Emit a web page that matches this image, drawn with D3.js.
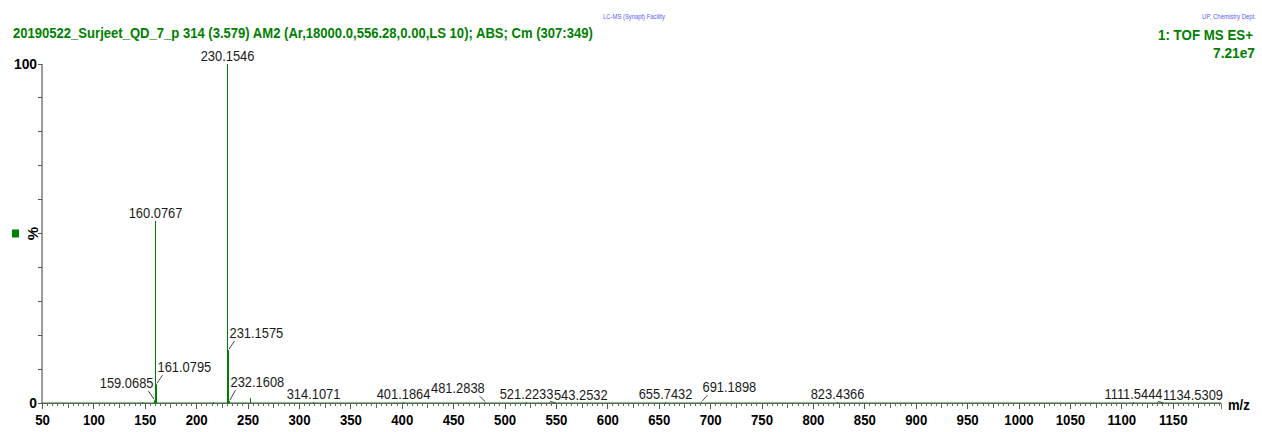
<!DOCTYPE html>
<html><head><meta charset="utf-8">
<script src="https://cdn.jsdelivr.net/npm/d3@7"></script>
<style>
body{margin:0;background:#fff}
svg{display:block;font-family:"Liberation Sans",Arial,sans-serif}
</style>
</head><body>
<svg id="c" width="1262" height="432"></svg>
<script>
// ---- data ----
const peakMz  = [147.1, 159.0685, 160.0767, 161.0795, 216.1, 230.1546, 231.1575, 232.1608, 252.1, 314.1071, 401.1864, 481.2838, 521.2233, 543.2532, 655.7432, 691.1898, 823.4366, 1111.5444, 1134.5309];
const peakPct = [0.3, 0.8, 53.7, 5.5, 0.3, 100, 15.6, 0.6, 1.5, 0.3, 0.3, 0.2, 0.3, 0.2, 0.3, 0.2, 0.3, 0.3, 0.2];
const labelMz    = [159.0685, 160.0767, 161.0795, 230.1546, 231.1575, 232.1608, 314.1071, 401.1864, 481.2838, 521.2233, 543.2532, 655.7432, 691.1898, 823.4366, 1111.5444, 1134.5309];
const labelSide  = ["left","center","right","center","right","right","center","center","left","center","right","center","right","center","center","right"];
const labelLevel = [4.4, null, 9.1, null, 19.2, 4.7, null, null, 2.9, null, 0.9, null, 3.2, null, null, 0.9];
const xTickLabels = [50,100,150,200,250,300,350,400,450,500,550,600,650,700,750,800,850,900,950,1000,1050,1100,1150];
const yTickLabels = [0, 100];
const titleText = "20190522_Surjeet_QD_7_p 314 (3.579) AM2 (Ar,18000.0,556.28,0.00,LS 10); ABS; Cm (307:349)";
const instrumentText = "1: TOF MS ES+";
const maxIntensityText = "7.21e7";
const facilityText = "LC-MS (Synapt) Facility";
const deptText = "UP, Chemistry Dept.";
const xAxisTitle = "m/z";
const yAxisTitle = "%";

// ---- drawing ----
const svg = d3.select("#c");
const GREEN = "#008000";
const x = d3.scaleLinear([50, 1197], [42, 1221]);
const y = d3.scaleLinear([0, 100], [403, 64]);

// text drawn at (x0,y0), horizontally compressed by k (or fitted to a width)
function mkText(parent, str, x0, y0, o) {
  const t = parent.append("text").attr("x", 0).attr("y", 0)
    .attr("text-anchor", o.anchor || "start")
    .attr("font-size", o.size).attr("font-weight", o.weight || "normal")
    .attr("fill", o.fill || "#000").text(str);
  const L = t.node().getComputedTextLength();
  const k = o.width ? o.width / L : (o.k || 1);
  t.attr("transform", `translate(${x0},${y0}) scale(${k},1)`);
  return {t, x: x0, y: y0, k, w: L * k, anchor: o.anchor || "start"};
}
function leftEdge(it) {
  return it.anchor === "middle" ? it.x - it.w / 2 : it.anchor === "end" ? it.x - it.w : it.x;
}

// header
mkText(svg, facilityText, 634, 19, {anchor: "middle", size: 8, fill: "#5a5aff", width: 62});
mkText(svg, deptText, 1256, 19, {anchor: "end", size: 8, fill: "#5a5aff", width: 54});
mkText(svg, titleText, 13, 38, {size: 14.5, weight: "bold", fill: GREEN, width: 580});
mkText(svg, instrumentText, 1253, 40, {anchor: "end", size: 15, weight: "bold", fill: GREEN, width: 95});
mkText(svg, maxIntensityText, 1255, 58, {anchor: "end", size: 15, weight: "bold", fill: GREEN, width: 42});

// y axis
svg.append("line").attr("x1", x(50)).attr("x2", x(50)).attr("y1", y(100)).attr("y2", y(0))
  .attr("stroke", "#7a7a7a").attr("stroke-width", 1.5);
svg.append("g").selectAll("line").data(d3.range(0, 101, 10)).join("line")
  .attr("x1", x(50) - 4).attr("x2", x(50)).attr("y1", d => y(d)).attr("y2", d => y(d))
  .attr("stroke", "#555").attr("stroke-width", 1).attr("shape-rendering", "crispEdges");
yTickLabels.forEach(v => mkText(svg, String(v), x(50) - 5, y(v) + 5.4,
  {anchor: "end", size: 15, weight: "bold", k: 0.92}));
svg.append("text").attr("transform", `translate(${x(50) - 4},${y(50)}) rotate(-90)`)
  .attr("text-anchor", "middle").attr("font-size", 15).attr("font-weight", "bold").text(yAxisTitle);
svg.append("rect").attr("x", 12).attr("y", y(50) - 4).attr("width", 7).attr("height", 8).attr("fill", GREEN);

// x axis
const xAxis = d3.axisBottom(x).tickValues(xTickLabels).tickSize(6).tickPadding(5.5).tickFormat(d3.format("d"));
const gx = svg.append("g").attr("transform", `translate(0,${y(0)})`).call(xAxis);
gx.select(".domain").attr("stroke", "#777");
gx.selectAll(".tick line").attr("stroke", "#555").attr("shape-rendering", "crispEdges");
gx.selectAll(".tick text").attr("font-size", 15).attr("font-weight", "bold").attr("fill", "#000")
  .attr("font-family", "'Liberation Sans',Arial,sans-serif")
  .attr("transform", "scale(0.88,1)");
const minor = d3.range(50, 1197, 5).filter(v => v % 50 !== 0);
svg.append("g").selectAll("line").data(minor).join("line")
  .attr("x1", d => Math.round(x(d)) + 0.5).attr("x2", d => Math.round(x(d)) + 0.5)
  .attr("y1", y(0)).attr("y2", d => y(0) + (d % 25 === 0 ? 5 : 3))
  .attr("stroke", "#666").attr("stroke-width", 1);
mkText(svg, xAxisTitle, 1228, 410, {size: 14.5, weight: "bold", k: 0.9});

// spectrum baseline
svg.append("line").attr("x1", x(50)).attr("x2", x(1197)).attr("y1", y(0)).attr("y2", y(0))
  .attr("stroke", "#2d6a2d").attr("stroke-width", 1.2);

// peaks
svg.append("g").selectAll("line").data(peakMz).join("line")
  .attr("x1", d => Math.round(x(d)) + 0.5).attr("x2", d => Math.round(x(d)) + 0.5)
  .attr("y1", y(0)).attr("y2", (d, i) => y(peakPct[i]))
  .attr("stroke", GREEN).attr("stroke-width", 1);

// peak labels
const fmt = d3.format(".4f");
const lab = svg.append("g");
const placed = [];
labelMz.forEach((mz, i) => {
  const pi = peakMz.indexOf(mz);
  const px = Math.round(x(mz)) + 0.5, py = y(peakPct[pi]);
  const side = labelSide[i];
  const opt = {size: 15, fill: "#1a1a1a", k: 0.86};
  let it;
  if (side === "center") {
    it = mkText(lab, fmt(mz), px, py - 3, {...opt, anchor: "middle"});
  } else {
    const ly = y(labelLevel[i]);
    const dir = side === "right" ? 1 : -1;
    lab.append("line").attr("x1", px + dir * 0.5).attr("y1", py - 1)
      .attr("x2", px + dir * 6).attr("y2", ly + 3)
      .attr("stroke", "#333").attr("stroke-width", 0.9);
    it = mkText(lab, fmt(mz), px + dir * 1, ly, {...opt, anchor: side === "right" ? "start" : "end"});
  }
  placed.push(it);
});
// neighbouring labels sharing a line: push the right-hand one clear of the left one
for (let j = 1; j < placed.length; j++) {
  const a = placed[j - 1], b = placed[j];
  if (Math.abs(a.y - b.y) > 12) continue;
  const overlap = leftEdge(a) + a.w + 0.5 - leftEdge(b);
  if (overlap > 0) {
    b.x += overlap;
    b.t.attr("transform", `translate(${b.x},${b.y}) scale(${b.k},1)`);
  }
}
</script>
</body></html>
